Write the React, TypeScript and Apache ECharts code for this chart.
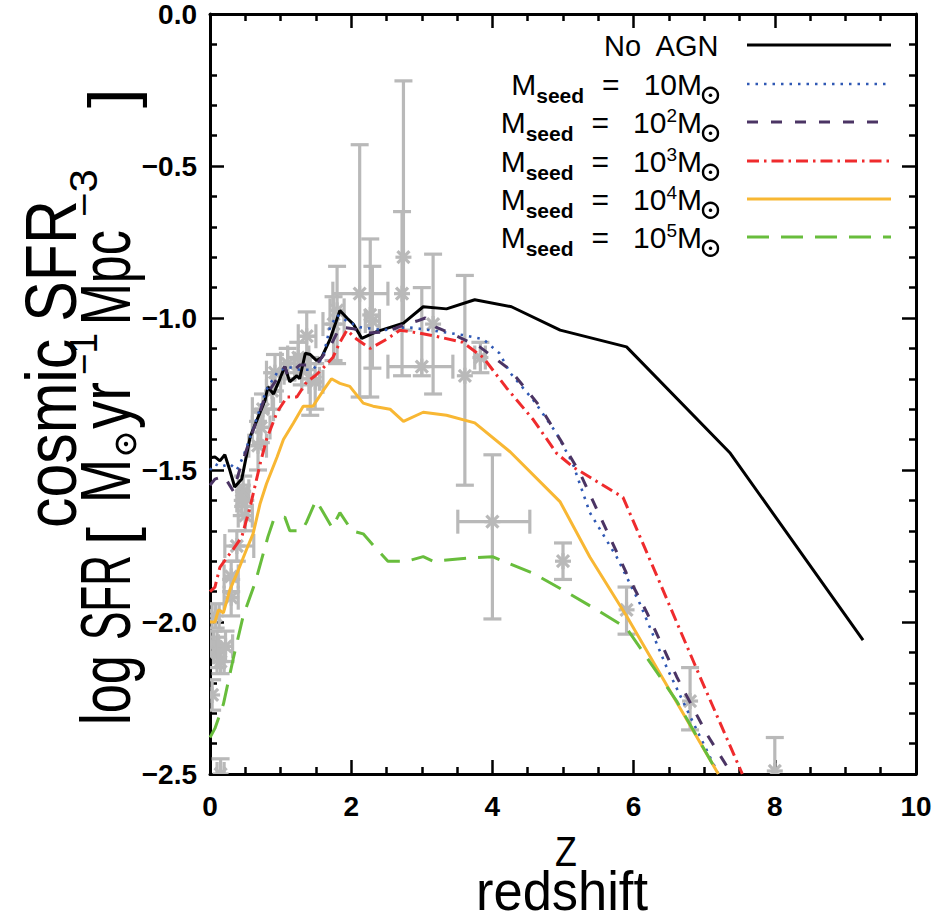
import React, { useEffect, useRef } from "react";
import * as echarts from "echarts";

// ---------- data ----------
const X_TICKS = { min: 0, max: 10, step: 2 };
const Y_TICKS = { min: -2.5, max: 0, step: 0.5 };

const noAgn: number[][] = [
  [0, -1.46], [0.07, -1.457], [0.14, -1.47], [0.21, -1.45], [0.28, -1.5], [0.35, -1.556],
  [0.45, -1.53], [0.57, -1.39], [0.64, -1.35], [0.78, -1.27], [0.82, -1.227], [0.9, -1.25],
  [0.99, -1.2], [1.06, -1.16], [1.13, -1.21], [1.23, -1.19], [1.27, -1.2], [1.35, -1.116],
  [1.42, -1.12], [1.51, -1.14], [1.58, -1.13], [1.7, -1.07], [1.84, -0.975], [1.94, -1.0],
  [2.03, -1.02], [2.15, -1.067], [2.36, -1.045], [2.74, -1.017], [3.02, -0.963], [3.35, -0.97],
  [3.75, -0.94], [4.27, -0.963], [4.96, -1.04], [5.9, -1.095], [7.37, -1.445], [9.25, -2.06],
];

const seed1: number[][] = [
  [0, -1.5], [0.07, -1.48], [0.15, -1.49], [0.28, -1.48], [0.38, -1.5], [0.47, -1.457],
  [0.64, -1.345], [0.8, -1.236], [0.95, -1.18], [1.09, -1.16], [1.27, -1.17], [1.46, -1.17],
  [1.6, -1.13], [1.7, -1.03], [1.8, -0.99], [1.94, -1.01], [2.12, -1.03], [2.45, -1.04],
  [2.79, -1.03], [3.12, -1.04], [3.58, -1.056], [3.87, -1.07], [4.1, -1.116], [4.25, -1.18],
  [4.58, -1.27], [4.91, -1.38], [5.14, -1.48], [5.38, -1.64], [5.76, -1.786], [6.09, -1.94],
  [6.47, -2.15], [6.8, -2.31], [7.2, -2.5],
];

const seed2: number[][] = [
  [0, -1.55], [0.07, -1.53], [0.2, -1.52], [0.33, -1.57], [0.42, -1.5], [0.61, -1.37],
  [0.78, -1.26], [0.95, -1.2], [1.06, -1.16], [1.1, -1.19], [1.27, -1.155], [1.5, -1.155],
  [1.7, -1.095], [1.84, -1.03], [2.03, -1.035], [2.22, -1.05], [2.5, -1.045], [2.74, -1.023],
  [2.93, -1.01], [3.05, -1.0], [3.2, -1.03], [3.5, -1.06], [3.82, -1.095], [4.25, -1.17],
  [4.67, -1.29], [4.96, -1.4], [5.24, -1.51], [5.52, -1.65], [5.9, -1.84], [6.19, -1.97],
  [6.61, -2.18], [7.04, -2.37], [7.39, -2.5],
];

const seed3: number[][] = [
  [0, -1.9], [0.07, -1.885], [0.14, -1.82], [0.33, -1.76], [0.45, -1.72], [0.57, -1.62],
  [0.71, -1.48], [0.8, -1.4], [0.95, -1.31], [1.09, -1.26], [1.23, -1.26], [1.37, -1.21],
  [1.49, -1.19], [1.58, -1.17], [1.74, -1.13], [1.84, -1.08], [1.94, -1.04], [2.08, -1.07],
  [2.27, -1.1], [2.5, -1.07], [2.69, -1.04], [2.97, -1.05], [3.2, -1.06], [3.58, -1.08],
  [3.87, -1.13], [4.2, -1.23], [4.58, -1.335], [4.91, -1.445], [5.14, -1.49], [5.85, -1.59],
  [6.37, -1.87], [6.94, -2.18], [7.54, -2.5],
];

const seed4: number[][] = [
  [0, -2.0], [0.07, -2.0], [0.12, -1.96], [0.19, -1.97], [0.28, -1.895], [0.4, -1.83],
  [0.52, -1.76], [0.61, -1.71], [0.71, -1.61], [0.8, -1.545], [0.95, -1.457], [1.04, -1.4],
  [1.18, -1.346], [1.32, -1.29], [1.46, -1.29], [1.6, -1.24], [1.72, -1.2], [1.84, -1.215],
  [1.98, -1.225], [2.17, -1.28], [2.31, -1.29], [2.55, -1.3], [2.74, -1.34], [3.02, -1.31],
  [3.35, -1.32], [3.75, -1.345], [4.25, -1.44], [4.96, -1.605], [5.38, -1.786], [5.9, -1.98],
  [7.2, -2.5],
];

const seed5: number[][] = [
  [0, -2.38], [0.07, -2.35], [0.19, -2.27], [0.33, -2.12], [0.47, -1.98], [0.64, -1.87],
  [0.82, -1.72], [0.9, -1.665], [1.06, -1.655], [1.13, -1.7], [1.3, -1.7], [1.37, -1.67],
  [1.5, -1.6], [1.58, -1.63], [1.73, -1.69], [1.84, -1.64], [2.01, -1.7], [2.17, -1.71],
  [2.36, -1.76], [2.52, -1.8], [2.79, -1.8], [3.02, -1.785], [3.16, -1.8], [3.64, -1.79],
  [4.0, -1.785], [4.58, -1.84], [5.0, -1.895], [5.48, -1.96], [5.9, -2.02], [6.61, -2.26],
  [7.2, -2.5],
];

// observations: [z, logSFR, zLow, zHigh, logSFR upper, logSFR lower]
const observations: number[][] = [
  [0.03, -2.24, 0.03, 0.03, -2.19, -2.29],
  [0.05, -2.07, 0.0, 0.1, -2.03, -2.11],
  [0.1, -2.1, 0.05, 0.15, -2.05, -2.15],
  [0.15, -2.13, 0.1, 0.2, -2.09, -2.17],
  [0.22, -2.08, 0.12, 0.32, -2.03, -2.13],
  [0.08, -1.98, 0.03, 0.13, -1.94, -2.02],
  [0.15, -2.5, 0.1, 0.2, -2.45, -2.55],
  [0.3, -1.92, 0.2, 0.4, -1.86, -1.98],
  [0.3, -1.85, 0.2, 0.4, -1.8, -1.9],
  [0.38, -1.75, 0.21, 0.62, -1.7, -1.8],
  [0.45, -1.6, 0.38, 0.52, -1.55, -1.65],
  [0.5, -1.65, 0.4, 0.6, -1.6, -1.7],
  [0.47, -1.57, 0.4, 0.55, -1.52, -1.62],
  [0.68, -1.42, 0.55, 0.8, -1.34, -1.5],
  [0.72, -1.36, 0.6, 0.85, -1.31, -1.41],
  [0.75, -1.3, 0.6, 0.9, -1.25, -1.36],
  [0.88, -1.24, 0.8, 1.0, -1.18, -1.3],
  [0.92, -1.18, 0.8, 1.05, -1.12, -1.24],
  [1.1, -1.15, 1.0, 1.2, -1.1, -1.2],
  [1.25, -1.13, 1.1, 1.4, -1.08, -1.18],
  [1.3, -1.17, 1.2, 1.4, -1.12, -1.22],
  [1.37, -1.06, 1.25, 1.5, -0.98, -1.17],
  [1.42, -1.2, 1.3, 1.55, -1.13, -1.32],
  [1.49, -1.21, 1.4, 1.6, -1.15, -1.3],
  [1.75, -1.02, 1.6, 1.9, -0.93, -1.14],
  [1.8, -0.975, 1.7, 1.9, -0.83, -1.15],
  [2.12, -0.92, 1.74, 2.52, -0.43, -1.26],
  [2.27, -0.99, 2.27, 2.27, -0.74, -1.26],
  [2.3, -1.01, 2.2, 2.4, -0.83, -1.165],
  [2.74, -0.8, 2.74, 2.74, -0.22, -1.04],
  [2.72, -0.92, 2.72, 2.72, -0.65, -1.19],
  [3.0, -1.16, 2.52, 3.44, -0.9, -1.19],
  [3.16, -1.02, 3.16, 3.16, -0.79, -1.25],
  [3.61, -1.19, 3.61, 3.61, -0.86, -1.55],
  [3.83, -1.13, 3.75, 3.9, -1.08, -1.18],
  [4.0, -1.67, 3.51, 4.53, -1.45, -1.99],
  [5.0, -1.8, 5.0, 5.0, -1.74, -1.86],
  [5.9, -1.96, 5.9, 5.9, -1.885, -2.04],
  [6.8, -2.26, 6.8, 6.8, -2.15, -2.355],
  [8.0, -2.49, 8.0, 8.0, -2.38, -2.6],
];

const seriesNames = ["No AGN", "Mseed = 10M⊙", "Mseed = 10^2M⊙", "Mseed = 10^3M⊙", "Mseed = 10^4M⊙", "Mseed = 10^5M⊙"];
const seedExponents = ["", "2", "3", "4", "5"];

// ---------- styling ----------
const FONT = '"Liberation Sans", Arial, Helvetica, sans-serif';
const GRAY = "#b9b9b9";
const styles = [
  { color: "#000000", dash: [] as number[] },
  { color: "#2f58b4", dash: [2.5, 6] },
  { color: "#4b3464", dash: [11, 13] },
  { color: "#ef2b2d", dash: [12, 5, 2.5, 5] },
  { color: "#f8b733", dash: [] as number[] },
  { color: "#68bd3c", dash: [22, 12] },
];

let measureCtx: CanvasRenderingContext2D | null = null;
function textWidth(t: string, size: number, weight = "normal") {
  if (!measureCtx) measureCtx = document.createElement("canvas").getContext("2d");
  if (!measureCtx) return t.length * size * 0.55;
  measureCtx.font = `${weight} ${size}px "Liberation Sans"`;
  return measureCtx.measureText(t).width;
}

type Piece = { t?: string; size: number; dy?: number; weight?: string; circle?: boolean; r?: number; gap?: number };

function textEl(t: string, size: number, x: number, baseline: number, weight = "normal") {
  return {
    type: "text",
    x,
    y: baseline - 0.35 * size,
    style: { text: t, fontSize: size, fontFamily: FONT, fontWeight: weight, fill: "#000", textAlign: "left", textVerticalAlign: "middle" },
  };
}

// lay pieces along local x with baseline at local y = 0
function layoutPieces(pieces: Piece[]) {
  const children: any[] = [];
  let x = 0;
  for (const p of pieces) {
    x += p.gap || 0;
    if (p.circle) {
      const r = p.r || 8;
      children.push({ type: "circle", shape: { cx: x + r, cy: (p.dy || 0) - r * 0.9, r }, style: { fill: "none", stroke: "#000", lineWidth: 2.4 } });
      children.push({ type: "circle", shape: { cx: x + r, cy: (p.dy || 0) - r * 0.9, r: 1.8 }, style: { fill: "#000" } });
      x += 2 * r + 2;
    } else {
      const w = textWidth(p.t!, p.size, p.weight || "normal");
      children.push(textEl(p.t!, p.size, x, p.dy || 0, p.weight || "normal"));
      x += w;
    }
  }
  return { children, width: x };
}

// rotated (reading bottom-to-top) text piece between screen y = yBottom and yTop, baseline at screen x = bx + dy
function vText(t: string, size: number, bx: number, yBottom: number, yTop: number, dy = 0) {
  const w = textWidth(t, size);
  return {
    type: "group",
    x: bx,
    y: yBottom,
    rotation: Math.PI / 2,
    scaleX: (yBottom - yTop) / w,
    children: [textEl(t, size, 0, dy)],
    z: 50,
  };
}

function buildGraphics() {
  const g: any[] = [];
  // ---- legend ----
  const rowY = [45, 84, 122, 161, 199, 237];
  const lineX1 = 747, lineX2 = 891, textRight = 720;
  rowY.forEach((y, i) => {
    const st = styles[i];
    g.push({ type: "line", shape: { x1: lineX1, y1: y, x2: lineX2, y2: y }, style: { stroke: st.color, lineWidth: i === 1 ? 2.6 : 3, lineDash: st.dash.length ? st.dash : null }, z: 50 });
    let pieces: Piece[];
    if (i === 0) {
      pieces = [{ t: "No  AGN", size: 29, dy: 0 }];
    } else {
      const exp = seedExponents[i - 1];
      pieces = [
        { t: "M", size: 30 },
        { t: "seed", size: 21, weight: "bold", dy: 8, gap: 0 },
        { t: "=", size: 30, gap: 18 },
        { t: "10", size: 30, gap: 24 },
      ];
      if (exp) pieces.push({ t: exp, size: 19, dy: -11 });
      pieces.push({ t: "M", size: 30 });
      pieces.push({ circle: true, r: 7.5, dy: 7, size: 0, gap: 1 });
    }
    const lay = layoutPieces(pieces);
    g.push({ type: "group", x: textRight - lay.width, y: y + 11, children: lay.children, z: 50 });
  });

  // ---- y-axis titles (rotated, read bottom to top) ----
  g.push(vText("cosmic SFR", 72, 76, 528, 200));

  const b2 = 130;
  const y0 = 725;
  g.push(vText("log", 70, b2, y0 - 0, y0 - 70));
  g.push(vText("SFR", 70, b2, y0 - 85, y0 - 170));
  g.push(vText("[", 64, b2, y0 - 180, y0 - 198, 4));
  g.push(vText("M", 70, b2, y0 - 222, y0 - 266));
  g.push({ type: "circle", shape: { cx: b2 - 4, cy: y0 - 281, r: 9 }, style: { fill: "none", stroke: "#000", lineWidth: 2.8 }, z: 50 });
  g.push({ type: "circle", shape: { cx: b2 - 4, cy: y0 - 281, r: 2.2 }, style: { fill: "#000" }, z: 50 });
  g.push(vText("yr", 70, b2, y0 - 296, y0 - 343));
  g.push(vText("−1", 38, b2, y0 - 350, y0 - 392, -33));
  g.push(vText("Mpc", 70, b2, y0 - 400, y0 - 495));
  g.push(vText("−3", 38, b2, y0 - 508, y0 - 556, -33));
  g.push(vText("]", 64, b2, y0 - 617, y0 - 637, 4));

  // ---- x-axis titles ----
  const zT = layoutPieces([{ t: "Z", size: 42 }]);
  g.push({ type: "group", x: 566 - (zT.width * 0.85) / 2, y: 866, scaleX: 0.85, children: zT.children, z: 50 });
  const rT = layoutPieces([{ t: "redshift", size: 55 }]);
  const rLen = 172;
  g.push({ type: "group", x: 562 - rLen / 2, y: 910, scaleX: rLen / rT.width, children: rT.children, z: 50 });
  return g;
}

function buildOption(): any {
  const tickStyle = { color: "#000", width: 2.5 };
  const label = { color: "#000", fontSize: 28, fontWeight: "bold", fontFamily: FONT };
  const axisBase = {
    type: "value",
    axisLine: { show: true, onZero: false, lineStyle: { color: "#000", width: 3 } },
    axisTick: { show: true, inside: true, length: 14, lineStyle: tickStyle },
    splitLine: { show: false },
    minorSplitLine: { show: false },
  };
  const xAx = (pos: string, showLabel: boolean) => ({
    ...axisBase,
    position: pos,
    min: X_TICKS.min,
    max: X_TICKS.max,
    interval: X_TICKS.step,
    minorTick: { show: true, splitNumber: 4, length: 7, lineStyle: tickStyle },
    axisLabel: showLabel ? { ...label, margin: 18 } : { show: false },
  });
  const yAx = (pos: string, showLabel: boolean) => ({
    ...axisBase,
    position: pos,
    min: Y_TICKS.min,
    max: Y_TICKS.max,
    interval: Y_TICKS.step,
    minorTick: { show: true, splitNumber: 5, length: 7, lineStyle: tickStyle },
    axisLabel: showLabel
      ? { ...label, margin: 13, formatter: (v: number) => (Math.abs(v) < 1e-9 ? "0.0" : v.toFixed(1).replace("-", "−")) }
      : { show: false },
  });

  const curveData = [noAgn, seed1, seed2, seed3, seed4, seed5];
  const lines = curveData.map((d, i) => ({
    type: "line",
    name: seriesNames[i],
    data: d,
    symbol: "none",
    showSymbol: false,
    silent: true,
    clip: true,
    z: 3 + i,
    lineStyle: { color: styles[i].color, width: i === 1 ? 2.6 : 3, type: styles[i].dash.length ? styles[i].dash : "solid" },
    itemStyle: { color: styles[i].color },
  }));

  const obsSeries = {
    type: "custom",
    name: "observations",
    data: observations,
    dimensions: ["z", "sfr", "zlo", "zhi", "shi", "slo"],
    encode: { x: 0, y: 1 },
    clip: true,
    silent: true,
    z: 2,
    renderItem: (_p: any, api: any) => {
      const z = api.value(0), v = api.value(1);
      const zlo = api.value(2), zhi = api.value(3), vhi = api.value(4), vlo = api.value(5);
      const c = api.coord([z, v]);
      const top = api.coord([z, vhi]);
      const bot = api.coord([z, vlo]);
      const left = api.coord([zlo, v]);
      const right = api.coord([zhi, v]);
      const style = { stroke: GRAY, lineWidth: 3.2, fill: "none" };
      const ch: any[] = [];
      const capV = 9, capH = 12, s = 8;
      ch.push({ type: "line", shape: { x1: c[0], y1: top[1], x2: c[0], y2: bot[1] }, style });
      ch.push({ type: "line", shape: { x1: c[0] - capV, y1: top[1], x2: c[0] + capV, y2: top[1] }, style });
      ch.push({ type: "line", shape: { x1: c[0] - capV, y1: bot[1], x2: c[0] + capV, y2: bot[1] }, style });
      if (right[0] - left[0] > 2) {
        ch.push({ type: "line", shape: { x1: left[0], y1: c[1], x2: right[0], y2: c[1] }, style });
        ch.push({ type: "line", shape: { x1: left[0], y1: c[1] - capH, x2: left[0], y2: c[1] + capH }, style });
        ch.push({ type: "line", shape: { x1: right[0], y1: c[1] - capH, x2: right[0], y2: c[1] + capH }, style });
      }
      const d = s * 0.75;
      ch.push({ type: "line", shape: { x1: c[0], y1: c[1] - s, x2: c[0], y2: c[1] + s }, style });
      ch.push({ type: "line", shape: { x1: c[0] - s, y1: c[1], x2: c[0] + s, y2: c[1] }, style });
      ch.push({ type: "line", shape: { x1: c[0] - d, y1: c[1] - d, x2: c[0] + d, y2: c[1] + d }, style });
      ch.push({ type: "line", shape: { x1: c[0] - d, y1: c[1] + d, x2: c[0] + d, y2: c[1] - d }, style });
      return { type: "group", children: ch };
    },
  };

  return {
    animation: false,
    backgroundColor: "#ffffff",
    grid: { left: 210, right: 19, top: 14, bottom: 149, containLabel: false },
    xAxis: [xAx("bottom", true), xAx("top", false)],
    yAxis: [yAx("left", true), yAx("right", false)],
    series: [obsSeries, ...lines],
    graphic: buildGraphics(),
  };
}

export default function App() {
  const ref = useRef<HTMLDivElement>(null);
  useEffect(() => {
    if (!ref.current) return;
    const chart = echarts.init(ref.current, null, { renderer: "svg" });
    chart.setOption(buildOption());
    return () => chart.dispose();
  }, []);
  return <div ref={ref} style={{ position: "fixed", left: 0, top: 0, width: 935, height: 923, background: "#fff" }} />;
}
